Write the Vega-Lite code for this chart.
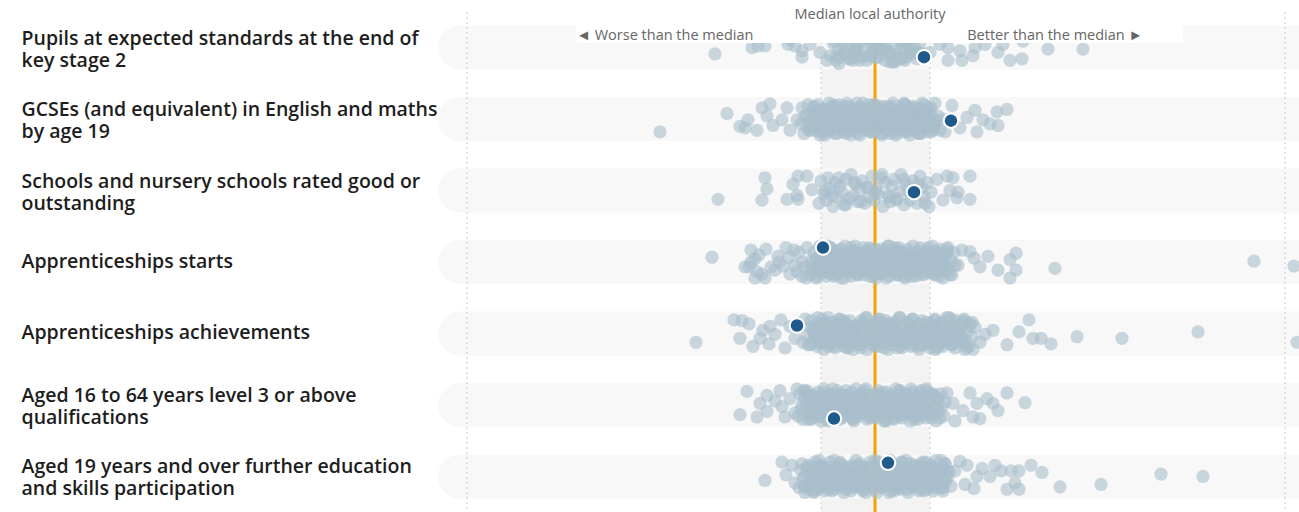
{
"$schema":"https://vega.github.io/schema/vega-lite/v6.json",
"width":861,"height":500,
"autosize":{"type":"none"},
"padding":{"left":438,"top":12,"right":0,"bottom":0},
"background":"white",
"config":{"view":{"stroke":null},"font":"Open Sans"},
"datasets":{
"measures":[
{"m":1,"name":"Pupils at expected standards at the end of\nkey stage 2"},
{"m":2,"name":"GCSEs (and equivalent) in English and maths\nby age 19"},
{"m":3,"name":"Schools and nursery schools rated good or\noutstanding"},
{"m":4,"name":"Apprenticeships starts"},
{"m":5,"name":"Apprenticeships achievements"},
{"m":6,"name":"Aged 16 to 64 years level 3 or above\nqualifications"},
{"m":7,"name":"Aged 19 years and over further education\nand skills participation"}],
"band":[{"lo":-5.4,"hi":5.5}],
"guides":[{"x":-40.8},{"x":41.0},{"x":-5.4},{"x":5.5}],
"median":[{"x":0}],
"header":[{"m":1,"x1":-29.9,"x2":30.8}],
"title":[{"m":1,"x":-0.5,"t":"Median local authority"}],
"sides":[{"m":1,"x":-21.0,"t":"◄ Worse than the median"},{"m":1,"x":18.0,"t":"Better than the median ►"}],
"highlight":[{"m":1,"x":4.9,"j":0.6},{"m":2,"x":7.6,"j":0.1},{"m":3,"x":3.9,"j":0.1},{"m":4,"x":-5.2,"j":-0.9},{"m":5,"x":-7.8,"j":-0.5},{"m":6,"x":-4.1,"j":0.85},{"m":7,"x":1.3,"j":-0.85}],
"points":[
{"m":1,"x":-16.0,"j":0.4},{"m":1,"x":-12.3,"j":0.0},{"m":1,"x":-11.0,"j":-0.1},{"m":1,"x":-8.7,"j":-0.2},{"m":1,"x":-7.3,"j":0.2},{"m":1,"x":-7.3,"j":0.6},{"m":1,"x":-6.5,"j":-0.2},{"m":1,"x":-4.8,"j":0.8},{"m":1,"x":-5.5,"j":0.3},{"m":1,"x":-11.7,"j":-0.1},{"m":1,"x":-8.0,"j":-0.1},{"m":1,"x":-8.5,"j":-0.5},
{"m":1,"x":5.5,"j":0.3},{"m":1,"x":6.5,"j":-0.2},{"m":1,"x":7.3,"j":0.0},{"m":1,"x":7.3,"j":0.8},{"m":1,"x":8.5,"j":0.2},{"m":1,"x":8.7,"j":0.8},{"m":1,"x":9.8,"j":0.5},{"m":1,"x":10.0,"j":0.0},{"m":1,"x":11.0,"j":-0.2},{"m":1,"x":12.3,"j":0.3},{"m":1,"x":12.8,"j":-0.2},{"m":1,"x":13.5,"j":0.8},{"m":1,"x":14.7,"j":0.7},{"m":1,"x":14.8,"j":-0.4},{"m":1,"x":17.3,"j":0.1},{"m":1,"x":20.8,"j":0.1},
{"m":1,"x":-4.5,"j":0.5},{"m":1,"x":-4.2,"j":-0.3},{"m":1,"x":-3.9,"j":0.8},{"m":1,"x":-3.6,"j":0.1},{"m":1,"x":-3.3,"j":-0.6},{"m":1,"x":-3.0,"j":0.4},{"m":1,"x":-2.7,"j":-0.1},{"m":1,"x":-2.5,"j":0.7},{"m":1,"x":-2.2,"j":-0.8},{"m":1,"x":-1.9,"j":0.2},{"m":1,"x":-1.6,"j":0.6},{"m":1,"x":-1.4,"j":-0.4},{"m":1,"x":-1.1,"j":0.0},{"m":1,"x":-0.8,"j":0.8},{"m":1,"x":-0.6,"j":-0.7},{"m":1,"x":-0.3,"j":0.3},{"m":1,"x":0.0,"j":-0.2},{"m":1,"x":0.2,"j":0.6},{"m":1,"x":0.5,"j":-0.5},{"m":1,"x":0.7,"j":0.1},{"m":1,"x":1.0,"j":0.8},{"m":1,"x":1.2,"j":-0.3},{"m":1,"x":1.5,"j":0.4},{"m":1,"x":1.8,"j":-0.9},{"m":1,"x":2.0,"j":0.2},{"m":1,"x":2.3,"j":0.7},{"m":1,"x":2.6,"j":-0.4},{"m":1,"x":2.8,"j":0.0},{"m":1,"x":3.1,"j":0.6},{"m":1,"x":3.4,"j":-0.6},{"m":1,"x":3.6,"j":0.3},{"m":1,"x":3.9,"j":-0.1},{"m":1,"x":4.2,"j":0.7},{"m":1,"x":4.5,"j":-0.3},{"m":1,"x":4.8,"j":0.4},{"m":1,"x":-3.5,"j":0.6},{"m":1,"x":-0.5,"j":0.5},{"m":1,"x":1.4,"j":0.2},{"m":1,"x":3.0,"j":0.8},{"m":1,"x":-2.0,"j":0.0},
{"m":1,"x":-4.0,"j":-0.4},{"m":1,"x":-3.6,"j":1.0},{"m":1,"x":-3.1,"j":0.2},{"m":1,"x":-2.7,"j":-0.6},{"m":1,"x":-2.2,"j":0.8},{"m":1,"x":-1.8,"j":-0.1},{"m":1,"x":-1.3,"j":0.5},{"m":1,"x":-0.9,"j":-0.9},{"m":1,"x":-0.4,"j":0.6},{"m":1,"x":0.0,"j":-0.3},{"m":1,"x":0.5,"j":0.0},{"m":1,"x":0.9,"j":0.3},{"m":1,"x":1.4,"j":-0.8},{"m":1,"x":1.8,"j":0.9},{"m":1,"x":2.3,"j":-0.5},{"m":1,"x":2.7,"j":0.7},{"m":1,"x":3.2,"j":-0.2},{"m":1,"x":3.6,"j":0.1},{"m":1,"x":4.0,"j":-1.0},{"m":1,"x":4.5,"j":0.4},
{"m":1,"x":-3.8,"j":0.5},{"m":1,"x":-3.2,"j":-0.3},{"m":1,"x":-2.6,"j":0.7},{"m":1,"x":-2.0,"j":0.2},{"m":1,"x":-1.5,"j":0.8},{"m":1,"x":-0.9,"j":-0.6},{"m":1,"x":-0.3,"j":0.0},{"m":1,"x":0.3,"j":0.6},{"m":1,"x":0.9,"j":-0.2},{"m":1,"x":1.5,"j":0.9},{"m":1,"x":2.0,"j":0.9},{"m":1,"x":2.6,"j":0.1},{"m":1,"x":3.2,"j":-0.5},{"m":1,"x":3.8,"j":0.4},{"m":1,"x":4.4,"j":0.3},
{"m":2,"x":-21.5,"j":0.8},{"m":2,"x":-14.8,"j":-0.35},{"m":2,"x":-13.5,"j":0.45},{"m":2,"x":-12.7,"j":0.05},{"m":2,"x":-11.8,"j":0.7},{"m":2,"x":-11.3,"j":-0.7},{"m":2,"x":-10.8,"j":-0.2},{"m":2,"x":-10.2,"j":0.4},{"m":2,"x":-8.8,"j":-0.7},{"m":2,"x":-9.3,"j":0.05},{"m":2,"x":-8.5,"j":0.7},{"m":2,"x":-7.8,"j":0.05},{"m":2,"x":-13.0,"j":0.55},{"m":2,"x":-10.5,"j":-0.95},
{"m":2,"x":6.8,"j":0.0},{"m":2,"x":7.7,"j":-0.85},{"m":2,"x":9.2,"j":-0.1},{"m":2,"x":10.0,"j":-0.55},{"m":2,"x":10.2,"j":0.8},{"m":2,"x":10.8,"j":0.05},{"m":2,"x":12.2,"j":-0.45},{"m":2,"x":13.2,"j":-0.6},{"m":2,"x":12.3,"j":0.4},{"m":2,"x":8.5,"j":0.55},{"m":2,"x":11.5,"j":0.3},{"m":2,"x":7.0,"j":0.8},
{"m":2,"x":-7.4,"j":0.3},{"m":2,"x":-7.3,"j":-0.7},{"m":2,"x":-7.1,"j":0.9},{"m":2,"x":-7.0,"j":-0.2},{"m":2,"x":-6.8,"j":0.5},{"m":2,"x":-6.7,"j":-0.9},{"m":2,"x":-6.6,"j":0.1},{"m":2,"x":-6.4,"j":0.7},{"m":2,"x":-6.3,"j":-0.4},{"m":2,"x":-6.1,"j":-0.8},
{"m":2,"x":-6.0,"j":0.6},{"m":2,"x":-5.9,"j":0.0},{"m":2,"x":-5.7,"j":-0.5},{"m":2,"x":-5.6,"j":0.8},{"m":2,"x":-5.4,"j":-0.1},{"m":2,"x":-5.3,"j":0.4},{"m":2,"x":-5.2,"j":-0.6},{"m":2,"x":-5.0,"j":1.0},{"m":2,"x":-4.9,"j":-0.3},{"m":2,"x":-4.7,"j":0.2},
{"m":2,"x":-4.6,"j":-1.0},{"m":2,"x":-4.5,"j":0.7},{"m":2,"x":-4.3,"j":-0.7},{"m":2,"x":-4.2,"j":0.3},{"m":2,"x":-4.0,"j":0.9},{"m":2,"x":-3.9,"j":-0.4},{"m":2,"x":-3.8,"j":0.0},{"m":2,"x":-3.6,"j":-0.9},{"m":2,"x":-3.5,"j":0.5},{"m":2,"x":-3.3,"j":-0.2},
{"m":2,"x":-3.2,"j":0.8},{"m":2,"x":-3.1,"j":-0.6},{"m":2,"x":-2.9,"j":0.2},{"m":2,"x":-2.8,"j":0.6},{"m":2,"x":-2.6,"j":-0.8},{"m":2,"x":-2.5,"j":-0.1},{"m":2,"x":-2.4,"j":1.0},{"m":2,"x":-2.2,"j":-0.5},{"m":2,"x":-2.1,"j":0.4},{"m":2,"x":-1.9,"j":-0.3},
{"m":2,"x":-1.8,"j":0.1},{"m":2,"x":-1.7,"j":0.9},{"m":2,"x":-1.5,"j":-0.7},{"m":2,"x":-1.4,"j":0.5},{"m":2,"x":-1.2,"j":-1.0},{"m":2,"x":-1.1,"j":0.3},{"m":2,"x":-1.0,"j":-0.4},{"m":2,"x":-0.8,"j":0.7},{"m":2,"x":-0.7,"j":0.0},{"m":2,"x":-0.5,"j":-0.6},
{"m":2,"x":-0.4,"j":0.8},{"m":2,"x":-0.3,"j":-0.2},{"m":2,"x":-0.1,"j":0.4},{"m":2,"x":0.0,"j":-0.9},{"m":2,"x":0.2,"j":0.6},{"m":2,"x":0.3,"j":-0.1},{"m":2,"x":0.4,"j":0.2},{"m":2,"x":0.6,"j":-0.8},{"m":2,"x":0.7,"j":1.0},{"m":2,"x":0.9,"j":-0.5},
{"m":2,"x":1.0,"j":0.3},{"m":2,"x":1.1,"j":0.7},{"m":2,"x":1.3,"j":-0.3},{"m":2,"x":1.4,"j":-0.7},{"m":2,"x":1.6,"j":0.5},{"m":2,"x":1.7,"j":0.1},{"m":2,"x":1.8,"j":-1.0},{"m":2,"x":2.0,"j":0.9},{"m":2,"x":2.1,"j":-0.4},{"m":2,"x":2.3,"j":0.0},
{"m":2,"x":2.4,"j":0.6},{"m":2,"x":2.5,"j":-0.6},{"m":2,"x":2.7,"j":0.2},{"m":2,"x":2.8,"j":0.8},{"m":2,"x":3.0,"j":-0.9},{"m":2,"x":3.1,"j":-0.2},{"m":2,"x":3.2,"j":0.4},{"m":2,"x":3.4,"j":-0.5},{"m":2,"x":3.5,"j":1.0},{"m":2,"x":3.7,"j":0.1},
{"m":2,"x":3.8,"j":-0.8},{"m":2,"x":3.9,"j":0.7},{"m":2,"x":4.1,"j":-0.3},{"m":2,"x":4.2,"j":0.3},{"m":2,"x":4.4,"j":-0.1},{"m":2,"x":4.5,"j":0.9},{"m":2,"x":4.6,"j":-0.6},{"m":2,"x":4.8,"j":0.5},{"m":2,"x":4.9,"j":-0.9},{"m":2,"x":5.1,"j":0.0},
{"m":2,"x":5.2,"j":0.8},{"m":2,"x":5.3,"j":-0.4},{"m":2,"x":5.5,"j":0.2},{"m":2,"x":5.6,"j":-0.7},{"m":2,"x":5.8,"j":0.6},{"m":2,"x":5.9,"j":0.4},{"m":2,"x":6.0,"j":-1.0},{"m":2,"x":6.2,"j":0.1},{"m":2,"x":6.3,"j":-0.2},{"m":2,"x":6.5,"j":0.7},
{"m":2,"x":-6.8,"j":-0.2},{"m":2,"x":-6.6,"j":0.7},{"m":2,"x":-6.4,"j":0.1},{"m":2,"x":-6.1,"j":-0.7},{"m":2,"x":-5.9,"j":0.4},{"m":2,"x":-5.7,"j":-0.4},{"m":2,"x":-5.5,"j":1.0},{"m":2,"x":-5.3,"j":0.2},{"m":2,"x":-5.1,"j":-0.6},{"m":2,"x":-4.8,"j":0.8},
{"m":2,"x":-4.6,"j":-0.1},{"m":2,"x":-4.4,"j":0.5},{"m":2,"x":-4.2,"j":-0.9},{"m":2,"x":-4.0,"j":0.6},{"m":2,"x":-3.8,"j":-0.3},{"m":2,"x":-3.5,"j":0.0},{"m":2,"x":-3.3,"j":0.3},{"m":2,"x":-3.1,"j":-0.8},{"m":2,"x":-2.9,"j":0.9},{"m":2,"x":-2.7,"j":-0.5},
{"m":2,"x":-2.5,"j":0.7},{"m":2,"x":-2.2,"j":-0.2},{"m":2,"x":-2.0,"j":0.1},{"m":2,"x":-1.8,"j":-1.0},{"m":2,"x":-1.6,"j":0.4},{"m":2,"x":-1.4,"j":0.6},{"m":2,"x":-1.2,"j":-0.7},{"m":2,"x":-0.9,"j":0.2},{"m":2,"x":-0.7,"j":-0.4},{"m":2,"x":-0.5,"j":0.8},
{"m":2,"x":-0.3,"j":0.0},{"m":2,"x":-0.1,"j":-0.9},{"m":2,"x":0.1,"j":0.5},{"m":2,"x":0.4,"j":-0.6},{"m":2,"x":0.6,"j":0.9},{"m":2,"x":0.8,"j":-0.1},{"m":2,"x":1.0,"j":0.3},{"m":2,"x":1.2,"j":-0.3},{"m":2,"x":1.4,"j":0.7},{"m":2,"x":1.7,"j":-0.8},
{"m":2,"x":1.9,"j":0.1},{"m":2,"x":2.1,"j":1.0},{"m":2,"x":2.3,"j":-0.5},{"m":2,"x":2.5,"j":0.4},{"m":2,"x":2.7,"j":-0.2},{"m":2,"x":3.0,"j":-0.9},{"m":2,"x":3.2,"j":0.8},{"m":2,"x":3.4,"j":0.2},{"m":2,"x":3.6,"j":-0.6},{"m":2,"x":3.8,"j":0.6},
{"m":2,"x":4.0,"j":0.0},{"m":2,"x":4.3,"j":-0.4},{"m":2,"x":4.5,"j":0.9},{"m":2,"x":4.7,"j":-1.0},{"m":2,"x":4.9,"j":0.1},{"m":2,"x":5.1,"j":0.5},{"m":2,"x":5.3,"j":-0.7},{"m":2,"x":5.6,"j":-0.3},{"m":2,"x":5.8,"j":0.7},{"m":2,"x":6.0,"j":0.3},
{"m":2,"x":-6.2,"j":0.5},{"m":2,"x":-6.0,"j":-0.3},{"m":2,"x":-5.7,"j":-0.9},{"m":2,"x":-5.5,"j":0.2},{"m":2,"x":-5.2,"j":0.8},{"m":2,"x":-5.0,"j":-0.6},{"m":2,"x":-4.7,"j":0.0},{"m":2,"x":-4.5,"j":0.6},{"m":2,"x":-4.2,"j":-0.2},{"m":2,"x":-4.0,"j":-0.8},
{"m":2,"x":-3.8,"j":0.9},{"m":2,"x":-3.5,"j":0.1},{"m":2,"x":-3.3,"j":-0.5},{"m":2,"x":-3.0,"j":0.4},{"m":2,"x":-2.8,"j":-1.0},{"m":2,"x":-2.5,"j":0.7},{"m":2,"x":-2.3,"j":-0.1},{"m":2,"x":-2.0,"j":0.3},{"m":2,"x":-1.8,"j":-0.7},{"m":2,"x":-1.5,"j":1.0},
{"m":2,"x":-1.3,"j":-0.4},{"m":2,"x":-1.1,"j":0.2},{"m":2,"x":-0.8,"j":0.6},{"m":2,"x":-0.6,"j":-0.9},{"m":2,"x":-0.3,"j":0.0},{"m":2,"x":-0.1,"j":0.8},{"m":2,"x":0.2,"j":-0.3},{"m":2,"x":0.4,"j":0.5},{"m":2,"x":0.7,"j":-0.6},{"m":2,"x":0.9,"j":0.1},
{"m":2,"x":1.1,"j":-0.8},{"m":2,"x":1.4,"j":0.9},{"m":2,"x":1.6,"j":-0.2},{"m":2,"x":1.9,"j":0.4},{"m":2,"x":2.1,"j":-0.5},{"m":2,"x":2.4,"j":0.7},{"m":2,"x":2.6,"j":0.0},{"m":2,"x":2.9,"j":-1.0},{"m":2,"x":3.1,"j":0.3},{"m":2,"x":3.4,"j":-0.4},
{"m":2,"x":3.6,"j":0.6},{"m":2,"x":3.8,"j":-0.7},{"m":2,"x":4.1,"j":0.2},{"m":2,"x":4.3,"j":0.9},{"m":2,"x":4.6,"j":-0.1},{"m":2,"x":4.8,"j":-0.6},{"m":2,"x":5.1,"j":0.5},{"m":2,"x":5.3,"j":-0.3},{"m":2,"x":5.6,"j":0.8},{"m":2,"x":5.8,"j":0.1},
{"m":3,"x":-15.7,"j":0.55},{"m":3,"x":-11.0,"j":-0.8},{"m":3,"x":-10.8,"j":-0.1},{"m":3,"x":-11.3,"j":0.6},{"m":3,"x":-8.2,"j":-0.4},{"m":3,"x":-8.8,"j":0.55},{"m":3,"x":-7.7,"j":-0.9},{"m":3,"x":-6.8,"j":-0.9},{"m":3,"x":-6.3,"j":-0.05},{"m":3,"x":-7.8,"j":0.3},{"m":3,"x":-7.7,"j":0.55},
{"m":3,"x":6.2,"j":-0.7},{"m":3,"x":7.2,"j":-0.9},{"m":3,"x":7.8,"j":-0.8},{"m":3,"x":7.5,"j":0.0},{"m":3,"x":8.3,"j":0.1},{"m":3,"x":9.5,"j":-0.9},{"m":3,"x":9.5,"j":0.55},{"m":3,"x":6.8,"j":0.6},{"m":3,"x":8.2,"j":0.45},
{"m":3,"x":-5.6,"j":0.8},{"m":3,"x":-5.4,"j":-0.6},{"m":3,"x":-5.1,"j":0.2},{"m":3,"x":-4.9,"j":0.6},{"m":3,"x":-4.7,"j":-0.8},{"m":3,"x":-4.5,"j":-0.1},{"m":3,"x":-4.2,"j":1.0},{"m":3,"x":-4.0,"j":-0.5},{"m":3,"x":-3.8,"j":0.4},{"m":3,"x":-3.5,"j":-0.3},
{"m":3,"x":-3.3,"j":0.1},{"m":3,"x":-3.1,"j":0.9},{"m":3,"x":-2.9,"j":-0.7},{"m":3,"x":-2.6,"j":0.5},{"m":3,"x":-2.4,"j":-1.0},{"m":3,"x":-2.2,"j":0.3},{"m":3,"x":-1.9,"j":-0.4},{"m":3,"x":-1.7,"j":0.7},{"m":3,"x":-1.5,"j":0.0},{"m":3,"x":-1.3,"j":-0.6},
{"m":3,"x":-1.0,"j":0.8},{"m":3,"x":-0.8,"j":-0.2},{"m":3,"x":-0.6,"j":0.4},{"m":3,"x":-0.3,"j":-0.9},{"m":3,"x":-0.1,"j":0.6},{"m":3,"x":0.1,"j":-0.1},{"m":3,"x":0.3,"j":0.2},{"m":3,"x":0.6,"j":-0.8},{"m":3,"x":0.8,"j":1.0},{"m":3,"x":1.0,"j":-0.5},
{"m":3,"x":1.3,"j":0.3},{"m":3,"x":1.5,"j":0.7},{"m":3,"x":1.7,"j":-0.3},{"m":3,"x":1.9,"j":-0.7},{"m":3,"x":2.2,"j":0.5},{"m":3,"x":2.4,"j":0.1},{"m":3,"x":2.6,"j":-1.0},{"m":3,"x":2.9,"j":0.9},{"m":3,"x":3.1,"j":-0.4},{"m":3,"x":3.3,"j":0.0},
{"m":3,"x":3.5,"j":0.6},{"m":3,"x":3.8,"j":-0.6},{"m":3,"x":4.0,"j":0.2},{"m":3,"x":4.2,"j":0.8},{"m":3,"x":4.5,"j":-0.9},{"m":3,"x":4.7,"j":-0.2},{"m":3,"x":4.9,"j":0.4},{"m":3,"x":5.2,"j":-0.5},{"m":3,"x":5.4,"j":1.0},{"m":3,"x":5.6,"j":0.1},
{"m":3,"x":-5.0,"j":0.0},{"m":3,"x":-4.3,"j":0.3},{"m":3,"x":-3.6,"j":-0.8},{"m":3,"x":-2.9,"j":0.9},{"m":3,"x":-2.1,"j":-0.5},{"m":3,"x":-1.4,"j":0.7},{"m":3,"x":-0.7,"j":-0.2},{"m":3,"x":0.0,"j":0.1},{"m":3,"x":0.7,"j":-1.0},{"m":3,"x":1.4,"j":0.4},{"m":3,"x":2.1,"j":0.6},{"m":3,"x":2.9,"j":-0.7},{"m":3,"x":3.6,"j":0.2},{"m":3,"x":4.3,"j":-0.4},{"m":3,"x":5.0,"j":0.8},
{"m":4,"x":-16.3,"j":-0.3},{"m":4,"x":-12.4,"j":-0.75},{"m":4,"x":-12.6,"j":0.3},{"m":4,"x":-12.0,"j":1.0},{"m":4,"x":-11.0,"j":1.0},{"m":4,"x":-11.6,"j":-0.45},{"m":4,"x":-10.4,"j":0.3},{"m":4,"x":-9.2,"j":0.25},{"m":4,"x":-8.1,"j":-0.75},{"m":4,"x":-7.3,"j":0.0},{"m":4,"x":-6.9,"j":1.0},{"m":4,"x":-6.5,"j":0.4},{"m":4,"x":-12.4,"j":0.0},{"m":4,"x":-13.0,"j":0.3},{"m":4,"x":-11.3,"j":0.75},{"m":4,"x":-9.7,"j":-0.35},{"m":4,"x":-8.5,"j":0.75},{"m":4,"x":-8.9,"j":-0.9},
{"m":4,"x":-12.0,"j":-0.2},{"m":4,"x":-11.8,"j":0.6},{"m":4,"x":-10.9,"j":-0.8},{"m":4,"x":-10.0,"j":0.5},{"m":4,"x":-9.6,"j":0.0},{"m":4,"x":-8.6,"j":-0.3},{"m":4,"x":-7.8,"j":0.6},{"m":4,"x":-7.6,"j":-0.6},{"m":4,"x":-7.0,"j":0.3},{"m":4,"x":-6.8,"j":-0.9},{"m":4,"x":-7.3,"j":0.9},{"m":4,"x":-8.0,"j":0.2},
{"m":4,"x":8.7,"j":-0.75},{"m":4,"x":9.5,"j":-0.65},{"m":4,"x":8.3,"j":0.2},{"m":4,"x":9.9,"j":-0.25},{"m":4,"x":10.5,"j":0.3},{"m":4,"x":11.3,"j":-0.35},{"m":4,"x":12.3,"j":0.5},{"m":4,"x":13.5,"j":-0.15},{"m":4,"x":14.1,"j":-0.55},{"m":4,"x":14.1,"j":0.5},{"m":4,"x":13.5,"j":1.0},{"m":4,"x":18.0,"j":0.4},{"m":4,"x":37.9,"j":-0.05},{"m":4,"x":41.9,"j":0.25},
{"m":4,"x":-6.5,"j":0.8},{"m":4,"x":-6.4,"j":-0.1},{"m":4,"x":-6.2,"j":0.4},{"m":4,"x":-6.1,"j":-0.6},{"m":4,"x":-5.9,"j":1.0},{"m":4,"x":-5.8,"j":-0.3},{"m":4,"x":-5.6,"j":0.2},{"m":4,"x":-5.5,"j":-1.0},{"m":4,"x":-5.3,"j":0.7},{"m":4,"x":-5.2,"j":-0.7},
{"m":4,"x":-5.0,"j":0.3},{"m":4,"x":-4.9,"j":0.9},{"m":4,"x":-4.7,"j":-0.4},{"m":4,"x":-4.6,"j":0.0},{"m":4,"x":-4.4,"j":-0.9},{"m":4,"x":-4.3,"j":0.5},{"m":4,"x":-4.2,"j":-0.2},{"m":4,"x":-4.0,"j":0.8},{"m":4,"x":-3.9,"j":-0.6},{"m":4,"x":-3.7,"j":0.2},
{"m":4,"x":-3.6,"j":0.6},{"m":4,"x":-3.4,"j":-0.8},{"m":4,"x":-3.3,"j":-0.1},{"m":4,"x":-3.1,"j":1.0},{"m":4,"x":-3.0,"j":-0.5},{"m":4,"x":-2.8,"j":0.4},{"m":4,"x":-2.7,"j":-0.3},{"m":4,"x":-2.5,"j":0.1},{"m":4,"x":-2.4,"j":0.9},{"m":4,"x":-2.2,"j":-0.7},
{"m":4,"x":-2.1,"j":0.5},{"m":4,"x":-2.0,"j":-1.0},{"m":4,"x":-1.8,"j":0.3},{"m":4,"x":-1.7,"j":-0.4},{"m":4,"x":-1.5,"j":0.7},{"m":4,"x":-1.4,"j":0.0},{"m":4,"x":-1.2,"j":-0.6},{"m":4,"x":-1.1,"j":0.8},{"m":4,"x":-0.9,"j":-0.2},{"m":4,"x":-0.8,"j":0.4},
{"m":4,"x":-0.6,"j":-0.9},{"m":4,"x":-0.5,"j":0.6},{"m":4,"x":-0.3,"j":-0.1},{"m":4,"x":-0.2,"j":0.2},{"m":4,"x":0.0,"j":-0.8},{"m":4,"x":0.1,"j":1.0},{"m":4,"x":0.2,"j":-0.5},{"m":4,"x":0.4,"j":0.3},{"m":4,"x":0.5,"j":0.7},{"m":4,"x":0.7,"j":-0.3},
{"m":4,"x":0.8,"j":-0.7},{"m":4,"x":1.0,"j":0.5},{"m":4,"x":1.1,"j":0.1},{"m":4,"x":1.3,"j":-1.0},{"m":4,"x":1.4,"j":0.9},{"m":4,"x":1.6,"j":-0.4},{"m":4,"x":1.7,"j":0.0},{"m":4,"x":1.9,"j":0.6},{"m":4,"x":2.0,"j":-0.6},{"m":4,"x":2.1,"j":0.2},
{"m":4,"x":2.3,"j":0.8},{"m":4,"x":2.4,"j":-0.9},{"m":4,"x":2.6,"j":-0.2},{"m":4,"x":2.7,"j":0.4},{"m":4,"x":2.9,"j":-0.5},{"m":4,"x":3.0,"j":1.0},{"m":4,"x":3.2,"j":0.1},{"m":4,"x":3.3,"j":-0.8},{"m":4,"x":3.5,"j":0.7},{"m":4,"x":3.6,"j":-0.3},
{"m":4,"x":3.8,"j":0.3},{"m":4,"x":3.9,"j":-0.1},{"m":4,"x":4.0,"j":0.9},{"m":4,"x":4.2,"j":-0.6},{"m":4,"x":4.3,"j":0.5},{"m":4,"x":4.5,"j":-0.9},{"m":4,"x":4.6,"j":0.0},{"m":4,"x":4.8,"j":0.8},{"m":4,"x":4.9,"j":-0.4},{"m":4,"x":5.1,"j":0.2},
{"m":4,"x":5.2,"j":-0.7},{"m":4,"x":5.4,"j":0.6},{"m":4,"x":5.5,"j":0.4},{"m":4,"x":5.7,"j":-1.0},{"m":4,"x":5.8,"j":0.1},{"m":4,"x":6.0,"j":-0.2},{"m":4,"x":6.1,"j":0.7},{"m":4,"x":6.3,"j":-0.5},{"m":4,"x":6.4,"j":0.9},{"m":4,"x":6.5,"j":-0.8},
{"m":4,"x":6.7,"j":0.3},{"m":4,"x":6.8,"j":0.0},{"m":4,"x":7.0,"j":-0.3},{"m":4,"x":7.1,"j":0.6},{"m":4,"x":7.3,"j":-0.9},{"m":4,"x":7.4,"j":0.5},{"m":4,"x":7.6,"j":-0.1},{"m":4,"x":7.7,"j":0.8},{"m":4,"x":7.9,"j":-0.6},{"m":4,"x":8.0,"j":0.2},
{"m":4,"x":-6.0,"j":-0.1},{"m":4,"x":-5.8,"j":0.5},{"m":4,"x":-5.5,"j":-0.9},{"m":4,"x":-5.3,"j":0.6},{"m":4,"x":-5.1,"j":-0.3},{"m":4,"x":-4.9,"j":0.0},{"m":4,"x":-4.6,"j":0.3},{"m":4,"x":-4.4,"j":-0.8},{"m":4,"x":-4.2,"j":0.9},{"m":4,"x":-3.9,"j":-0.5},
{"m":4,"x":-3.7,"j":0.7},{"m":4,"x":-3.5,"j":-0.2},{"m":4,"x":-3.3,"j":0.1},{"m":4,"x":-3.0,"j":-1.0},{"m":4,"x":-2.8,"j":0.4},{"m":4,"x":-2.6,"j":0.6},{"m":4,"x":-2.3,"j":-0.7},{"m":4,"x":-2.1,"j":0.2},{"m":4,"x":-1.9,"j":-0.4},{"m":4,"x":-1.7,"j":0.8},
{"m":4,"x":-1.4,"j":0.0},{"m":4,"x":-1.2,"j":-0.9},{"m":4,"x":-1.0,"j":0.5},{"m":4,"x":-0.7,"j":-0.6},{"m":4,"x":-0.5,"j":0.9},{"m":4,"x":-0.3,"j":-0.1},{"m":4,"x":-0.1,"j":0.3},{"m":4,"x":0.2,"j":-0.3},{"m":4,"x":0.4,"j":0.7},{"m":4,"x":0.6,"j":-0.8},
{"m":4,"x":0.9,"j":0.1},{"m":4,"x":1.1,"j":1.0},{"m":4,"x":1.3,"j":-0.5},{"m":4,"x":1.6,"j":0.4},{"m":4,"x":1.8,"j":-0.2},{"m":4,"x":2.0,"j":-0.9},{"m":4,"x":2.2,"j":0.8},{"m":4,"x":2.5,"j":0.2},{"m":4,"x":2.7,"j":-0.6},{"m":4,"x":2.9,"j":0.6},
{"m":4,"x":3.2,"j":0.0},{"m":4,"x":3.4,"j":-0.4},{"m":4,"x":3.6,"j":0.9},{"m":4,"x":3.8,"j":-1.0},{"m":4,"x":4.1,"j":0.1},{"m":4,"x":4.3,"j":0.5},{"m":4,"x":4.5,"j":-0.7},{"m":4,"x":4.8,"j":-0.3},{"m":4,"x":5.0,"j":0.7},{"m":4,"x":5.2,"j":0.3},
{"m":4,"x":5.4,"j":-0.2},{"m":4,"x":5.7,"j":0.7},{"m":4,"x":5.9,"j":0.1},{"m":4,"x":6.1,"j":-0.7},{"m":4,"x":6.4,"j":0.4},{"m":4,"x":6.6,"j":-0.4},{"m":4,"x":6.8,"j":1.0},{"m":4,"x":7.0,"j":0.2},{"m":4,"x":7.3,"j":-0.6},{"m":4,"x":7.5,"j":0.8},
{"m":4,"x":-5.8,"j":0.9},{"m":4,"x":-5.5,"j":0.1},{"m":4,"x":-5.3,"j":-0.5},{"m":4,"x":-5.0,"j":0.4},{"m":4,"x":-4.7,"j":-1.0},{"m":4,"x":-4.5,"j":0.7},{"m":4,"x":-4.2,"j":-0.1},{"m":4,"x":-3.9,"j":0.3},{"m":4,"x":-3.7,"j":-0.7},{"m":4,"x":-3.4,"j":1.0},
{"m":4,"x":-3.2,"j":-0.4},{"m":4,"x":-2.9,"j":0.2},{"m":4,"x":-2.6,"j":0.6},{"m":4,"x":-2.4,"j":-0.9},{"m":4,"x":-2.1,"j":0.0},{"m":4,"x":-1.8,"j":0.8},{"m":4,"x":-1.6,"j":-0.3},{"m":4,"x":-1.3,"j":0.5},{"m":4,"x":-1.0,"j":-0.6},{"m":4,"x":-0.8,"j":0.1},
{"m":4,"x":-0.5,"j":-0.8},{"m":4,"x":-0.2,"j":0.9},{"m":4,"x":0.0,"j":-0.2},{"m":4,"x":0.3,"j":0.4},{"m":4,"x":0.6,"j":-0.5},{"m":4,"x":0.8,"j":0.7},{"m":4,"x":1.1,"j":0.0},{"m":4,"x":1.4,"j":-1.0},{"m":4,"x":1.6,"j":0.3},{"m":4,"x":1.9,"j":-0.4},
{"m":4,"x":2.2,"j":0.6},{"m":4,"x":2.4,"j":-0.7},{"m":4,"x":2.7,"j":0.2},{"m":4,"x":2.9,"j":0.9},{"m":4,"x":3.2,"j":-0.1},{"m":4,"x":3.5,"j":-0.6},{"m":4,"x":3.7,"j":0.5},{"m":4,"x":4.0,"j":-0.3},{"m":4,"x":4.3,"j":0.8},{"m":4,"x":4.5,"j":0.1},
{"m":4,"x":4.8,"j":0.5},{"m":4,"x":5.1,"j":-0.3},{"m":4,"x":5.3,"j":-0.9},{"m":4,"x":5.6,"j":0.2},{"m":4,"x":5.9,"j":0.8},{"m":4,"x":6.1,"j":-0.6},{"m":4,"x":6.4,"j":0.0},{"m":4,"x":6.7,"j":0.6},{"m":4,"x":6.9,"j":-0.2},{"m":4,"x":7.2,"j":-0.8},
{"m":5,"x":-17.9,"j":0.55},{"m":5,"x":-14.1,"j":-0.85},{"m":5,"x":-13.3,"j":-0.8},{"m":5,"x":-12.6,"j":-0.6},{"m":5,"x":-13.5,"j":0.3},{"m":5,"x":-12.2,"j":0.8},{"m":5,"x":-11.2,"j":-0.2},{"m":5,"x":-10.6,"j":0.65},{"m":5,"x":-9.4,"j":-0.85},{"m":5,"x":-7.2,"j":0.55},{"m":5,"x":-5.6,"j":0.45},{"m":5,"x":-11.5,"j":0.3},{"m":5,"x":-10.0,"j":0.05},{"m":5,"x":-8.5,"j":-0.45},{"m":5,"x":-9.0,"j":0.9},{"m":5,"x":-10.5,"j":-0.45},{"m":5,"x":-8.0,"j":0.3},
{"m":5,"x":11.8,"j":-0.2},{"m":5,"x":14.4,"j":-0.1},{"m":5,"x":15.4,"j":-0.85},{"m":5,"x":15.8,"j":0.3},{"m":5,"x":16.6,"j":0.3},{"m":5,"x":17.6,"j":0.65},{"m":5,"x":13.2,"j":0.7},{"m":5,"x":20.2,"j":0.2},{"m":5,"x":24.7,"j":0.3},{"m":5,"x":32.3,"j":-0.1},{"m":5,"x":42.2,"j":0.55},{"m":5,"x":10.5,"j":0.55},{"m":5,"x":9.7,"j":-0.7},{"m":5,"x":11.0,"j":0.05},
{"m":5,"x":-7.0,"j":-0.9},{"m":5,"x":-6.8,"j":0.1},{"m":5,"x":-6.7,"j":0.7},{"m":5,"x":-6.5,"j":-0.4},{"m":5,"x":-6.4,"j":-0.8},{"m":5,"x":-6.2,"j":0.6},{"m":5,"x":-6.1,"j":0.0},{"m":5,"x":-5.9,"j":-0.5},{"m":5,"x":-5.8,"j":0.8},{"m":5,"x":-5.6,"j":-0.1},
{"m":5,"x":-5.4,"j":0.4},{"m":5,"x":-5.3,"j":-0.6},{"m":5,"x":-5.1,"j":1.0},{"m":5,"x":-5.0,"j":-0.3},{"m":5,"x":-4.8,"j":0.2},{"m":5,"x":-4.7,"j":-1.0},{"m":5,"x":-4.5,"j":0.7},{"m":5,"x":-4.3,"j":-0.7},{"m":5,"x":-4.2,"j":0.3},{"m":5,"x":-4.0,"j":0.9},
{"m":5,"x":-3.9,"j":-0.4},{"m":5,"x":-3.7,"j":0.0},{"m":5,"x":-3.6,"j":-0.9},{"m":5,"x":-3.4,"j":0.5},{"m":5,"x":-3.3,"j":-0.2},{"m":5,"x":-3.1,"j":0.8},{"m":5,"x":-2.9,"j":-0.6},{"m":5,"x":-2.8,"j":0.2},{"m":5,"x":-2.6,"j":0.6},{"m":5,"x":-2.5,"j":-0.8},
{"m":5,"x":-2.3,"j":-0.1},{"m":5,"x":-2.2,"j":1.0},{"m":5,"x":-2.0,"j":-0.5},{"m":5,"x":-1.9,"j":0.4},{"m":5,"x":-1.7,"j":-0.3},{"m":5,"x":-1.5,"j":0.1},{"m":5,"x":-1.4,"j":0.9},{"m":5,"x":-1.2,"j":-0.7},{"m":5,"x":-1.1,"j":0.5},{"m":5,"x":-0.9,"j":-1.0},
{"m":5,"x":-0.8,"j":0.3},{"m":5,"x":-0.6,"j":-0.4},{"m":5,"x":-0.4,"j":0.7},{"m":5,"x":-0.3,"j":0.0},{"m":5,"x":-0.1,"j":-0.6},{"m":5,"x":0.0,"j":0.8},{"m":5,"x":0.2,"j":-0.2},{"m":5,"x":0.3,"j":0.4},{"m":5,"x":0.5,"j":-0.9},{"m":5,"x":0.6,"j":0.6},
{"m":5,"x":0.8,"j":-0.1},{"m":5,"x":1.0,"j":0.2},{"m":5,"x":1.1,"j":-0.8},{"m":5,"x":1.3,"j":1.0},{"m":5,"x":1.4,"j":-0.5},{"m":5,"x":1.6,"j":0.3},{"m":5,"x":1.7,"j":0.7},{"m":5,"x":1.9,"j":-0.3},{"m":5,"x":2.0,"j":-0.7},{"m":5,"x":2.2,"j":0.5},
{"m":5,"x":2.4,"j":0.1},{"m":5,"x":2.5,"j":-1.0},{"m":5,"x":2.7,"j":0.9},{"m":5,"x":2.8,"j":-0.4},{"m":5,"x":3.0,"j":0.0},{"m":5,"x":3.1,"j":0.6},{"m":5,"x":3.3,"j":-0.6},{"m":5,"x":3.5,"j":0.2},{"m":5,"x":3.6,"j":0.8},{"m":5,"x":3.8,"j":-0.9},
{"m":5,"x":3.9,"j":-0.2},{"m":5,"x":4.1,"j":0.4},{"m":5,"x":4.2,"j":-0.5},{"m":5,"x":4.4,"j":1.0},{"m":5,"x":4.5,"j":0.1},{"m":5,"x":4.7,"j":-0.8},{"m":5,"x":4.9,"j":0.7},{"m":5,"x":5.0,"j":-0.3},{"m":5,"x":5.2,"j":0.3},{"m":5,"x":5.3,"j":-0.1},
{"m":5,"x":5.5,"j":0.9},{"m":5,"x":5.6,"j":-0.6},{"m":5,"x":5.8,"j":0.5},{"m":5,"x":6.0,"j":-0.9},{"m":5,"x":6.1,"j":0.0},{"m":5,"x":6.3,"j":0.8},{"m":5,"x":6.4,"j":-0.4},{"m":5,"x":6.6,"j":0.2},{"m":5,"x":6.7,"j":-0.7},{"m":5,"x":6.9,"j":0.6},
{"m":5,"x":7.0,"j":0.4},{"m":5,"x":7.2,"j":-1.0},{"m":5,"x":7.4,"j":0.1},{"m":5,"x":7.5,"j":-0.2},{"m":5,"x":7.7,"j":0.7},{"m":5,"x":7.8,"j":-0.5},{"m":5,"x":8.0,"j":0.9},{"m":5,"x":8.1,"j":-0.8},{"m":5,"x":8.3,"j":0.3},{"m":5,"x":8.4,"j":0.0},
{"m":5,"x":8.6,"j":-0.3},{"m":5,"x":8.8,"j":0.6},{"m":5,"x":8.9,"j":-0.9},{"m":5,"x":9.1,"j":0.5},{"m":5,"x":9.2,"j":-0.1},{"m":5,"x":9.4,"j":0.8},{"m":5,"x":9.5,"j":-0.6},{"m":5,"x":9.7,"j":0.2},{"m":5,"x":9.8,"j":1.0},{"m":5,"x":10.0,"j":-0.4},
{"m":5,"x":-6.5,"j":0.7},{"m":5,"x":-6.2,"j":-0.2},{"m":5,"x":-6.0,"j":0.1},{"m":5,"x":-5.7,"j":-1.0},{"m":5,"x":-5.4,"j":0.4},{"m":5,"x":-5.1,"j":0.6},{"m":5,"x":-4.9,"j":-0.7},{"m":5,"x":-4.6,"j":0.2},{"m":5,"x":-4.3,"j":-0.4},{"m":5,"x":-4.1,"j":0.8},
{"m":5,"x":-3.8,"j":0.0},{"m":5,"x":-3.5,"j":-0.9},{"m":5,"x":-3.2,"j":0.5},{"m":5,"x":-3.0,"j":-0.6},{"m":5,"x":-2.7,"j":0.9},{"m":5,"x":-2.4,"j":-0.1},{"m":5,"x":-2.2,"j":0.3},{"m":5,"x":-1.9,"j":-0.3},{"m":5,"x":-1.6,"j":0.7},{"m":5,"x":-1.4,"j":-0.8},
{"m":5,"x":-1.1,"j":0.1},{"m":5,"x":-0.8,"j":1.0},{"m":5,"x":-0.5,"j":-0.5},{"m":5,"x":-0.3,"j":0.4},{"m":5,"x":0.0,"j":-0.2},{"m":5,"x":0.3,"j":-0.9},{"m":5,"x":0.5,"j":0.8},{"m":5,"x":0.8,"j":0.2},{"m":5,"x":1.1,"j":-0.6},{"m":5,"x":1.4,"j":0.6},
{"m":5,"x":1.6,"j":0.0},{"m":5,"x":1.9,"j":-0.4},{"m":5,"x":2.2,"j":0.9},{"m":5,"x":2.4,"j":-1.0},{"m":5,"x":2.7,"j":0.1},{"m":5,"x":3.0,"j":0.5},{"m":5,"x":3.3,"j":-0.7},{"m":5,"x":3.5,"j":-0.3},{"m":5,"x":3.8,"j":0.7},{"m":5,"x":4.1,"j":0.3},
{"m":5,"x":4.3,"j":-0.2},{"m":5,"x":4.6,"j":0.7},{"m":5,"x":4.9,"j":0.1},{"m":5,"x":5.2,"j":-0.7},{"m":5,"x":5.4,"j":0.4},{"m":5,"x":5.7,"j":-0.4},{"m":5,"x":6.0,"j":1.0},{"m":5,"x":6.2,"j":0.2},{"m":5,"x":6.5,"j":-0.6},{"m":5,"x":6.8,"j":0.8},
{"m":5,"x":7.1,"j":-0.1},{"m":5,"x":7.3,"j":0.5},{"m":5,"x":7.6,"j":-0.9},{"m":5,"x":7.9,"j":0.6},{"m":5,"x":8.1,"j":-0.3},{"m":5,"x":8.4,"j":0.0},{"m":5,"x":8.7,"j":0.3},{"m":5,"x":8.9,"j":-0.8},{"m":5,"x":9.2,"j":0.9},{"m":5,"x":9.5,"j":-0.5},
{"m":5,"x":-6.2,"j":-0.4},{"m":5,"x":-5.9,"j":0.2},{"m":5,"x":-5.6,"j":0.6},{"m":5,"x":-5.3,"j":-0.9},{"m":5,"x":-5.0,"j":0.0},{"m":5,"x":-4.7,"j":0.8},{"m":5,"x":-4.3,"j":-0.3},{"m":5,"x":-4.0,"j":0.5},{"m":5,"x":-3.7,"j":-0.6},{"m":5,"x":-3.4,"j":0.1},
{"m":5,"x":-3.1,"j":-0.8},{"m":5,"x":-2.8,"j":0.9},{"m":5,"x":-2.5,"j":-0.2},{"m":5,"x":-2.2,"j":0.4},{"m":5,"x":-1.9,"j":-0.5},{"m":5,"x":-1.6,"j":0.7},{"m":5,"x":-1.2,"j":0.0},{"m":5,"x":-0.9,"j":-1.0},{"m":5,"x":-0.6,"j":0.3},{"m":5,"x":-0.3,"j":-0.4},
{"m":5,"x":0.0,"j":0.6},{"m":5,"x":0.3,"j":-0.7},{"m":5,"x":0.6,"j":0.2},{"m":5,"x":0.9,"j":0.9},{"m":5,"x":1.2,"j":-0.1},{"m":5,"x":1.5,"j":-0.6},{"m":5,"x":1.9,"j":0.5},{"m":5,"x":2.2,"j":-0.3},{"m":5,"x":2.5,"j":0.8},{"m":5,"x":2.8,"j":0.1},
{"m":5,"x":3.1,"j":0.5},{"m":5,"x":3.4,"j":-0.3},{"m":5,"x":3.7,"j":-0.9},{"m":5,"x":4.0,"j":0.2},{"m":5,"x":4.3,"j":0.8},{"m":5,"x":4.6,"j":-0.6},{"m":5,"x":5.0,"j":0.0},{"m":5,"x":5.3,"j":0.6},{"m":5,"x":5.6,"j":-0.2},{"m":5,"x":5.9,"j":-0.8},
{"m":5,"x":6.2,"j":0.9},{"m":5,"x":6.5,"j":0.1},{"m":5,"x":6.8,"j":-0.5},{"m":5,"x":7.1,"j":0.4},{"m":5,"x":7.4,"j":-1.0},{"m":5,"x":7.7,"j":0.7},{"m":5,"x":8.1,"j":-0.1},{"m":5,"x":8.4,"j":0.3},{"m":5,"x":8.7,"j":-0.7},{"m":5,"x":9.0,"j":1.0},
{"m":6,"x":-12.8,"j":-0.85},{"m":6,"x":-13.5,"j":0.6},{"m":6,"x":-11.8,"j":0.75},{"m":6,"x":-11.5,"j":-0.1},{"m":6,"x":-10.8,"j":-0.6},{"m":6,"x":-10.8,"j":0.4},{"m":6,"x":-9.5,"j":-0.9},{"m":6,"x":-9.3,"j":0.1},{"m":6,"x":-8.5,"j":-0.4},{"m":6,"x":-10.0,"j":-0.25},{"m":6,"x":-9.0,"j":0.75},{"m":6,"x":-8.0,"j":0.5},
{"m":6,"x":7.2,"j":-0.75},{"m":6,"x":7.8,"j":-0.1},{"m":6,"x":8.8,"j":0.35},{"m":6,"x":9.5,"j":-0.75},{"m":6,"x":10.2,"j":-0.1},{"m":6,"x":9.8,"j":0.75},{"m":6,"x":10.5,"j":0.85},{"m":6,"x":11.2,"j":-0.4},{"m":6,"x":11.8,"j":-0.1},{"m":6,"x":12.3,"j":0.35},{"m":6,"x":13.2,"j":-0.75},{"m":6,"x":15.0,"j":-0.15},{"m":6,"x":8.0,"j":1.0},
{"m":6,"x":-7.8,"j":-1.0},{"m":6,"x":-7.7,"j":0.7},{"m":6,"x":-7.5,"j":-0.7},{"m":6,"x":-7.4,"j":0.3},{"m":6,"x":-7.2,"j":0.9},{"m":6,"x":-7.1,"j":-0.4},{"m":6,"x":-6.9,"j":0.0},{"m":6,"x":-6.8,"j":-0.9},{"m":6,"x":-6.6,"j":0.5},{"m":6,"x":-6.5,"j":-0.2},
{"m":6,"x":-6.3,"j":0.8},{"m":6,"x":-6.2,"j":-0.6},{"m":6,"x":-6.0,"j":0.2},{"m":6,"x":-5.9,"j":0.6},{"m":6,"x":-5.7,"j":-0.8},{"m":6,"x":-5.6,"j":-0.1},{"m":6,"x":-5.4,"j":1.0},{"m":6,"x":-5.3,"j":-0.5},{"m":6,"x":-5.1,"j":0.4},{"m":6,"x":-5.0,"j":-0.3},
{"m":6,"x":-4.8,"j":0.1},{"m":6,"x":-4.7,"j":0.9},{"m":6,"x":-4.5,"j":-0.7},{"m":6,"x":-4.4,"j":0.5},{"m":6,"x":-4.2,"j":-1.0},{"m":6,"x":-4.1,"j":0.3},{"m":6,"x":-3.9,"j":-0.4},{"m":6,"x":-3.8,"j":0.7},{"m":6,"x":-3.6,"j":0.0},{"m":6,"x":-3.5,"j":-0.6},
{"m":6,"x":-3.3,"j":0.8},{"m":6,"x":-3.2,"j":-0.2},{"m":6,"x":-3.0,"j":0.4},{"m":6,"x":-2.9,"j":-0.9},{"m":6,"x":-2.7,"j":0.6},{"m":6,"x":-2.6,"j":-0.1},{"m":6,"x":-2.4,"j":0.2},{"m":6,"x":-2.3,"j":-0.8},{"m":6,"x":-2.1,"j":1.0},{"m":6,"x":-2.0,"j":-0.5},
{"m":6,"x":-1.8,"j":0.3},{"m":6,"x":-1.7,"j":0.7},{"m":6,"x":-1.5,"j":-0.3},{"m":6,"x":-1.4,"j":-0.7},{"m":6,"x":-1.2,"j":0.5},{"m":6,"x":-1.1,"j":0.1},{"m":6,"x":-0.9,"j":-1.0},{"m":6,"x":-0.8,"j":0.9},{"m":6,"x":-0.6,"j":-0.4},{"m":6,"x":-0.5,"j":0.0},
{"m":6,"x":-0.3,"j":0.6},{"m":6,"x":-0.2,"j":-0.6},{"m":6,"x":0.0,"j":0.2},{"m":6,"x":0.1,"j":0.8},{"m":6,"x":0.3,"j":-0.9},{"m":6,"x":0.4,"j":-0.2},{"m":6,"x":0.6,"j":0.4},{"m":6,"x":0.7,"j":-0.5},{"m":6,"x":0.9,"j":1.0},{"m":6,"x":1.0,"j":0.1},
{"m":6,"x":1.2,"j":-0.8},{"m":6,"x":1.3,"j":0.7},{"m":6,"x":1.5,"j":-0.3},{"m":6,"x":1.6,"j":0.3},{"m":6,"x":1.8,"j":-0.1},{"m":6,"x":1.9,"j":0.9},{"m":6,"x":2.1,"j":-0.6},{"m":6,"x":2.2,"j":0.5},{"m":6,"x":2.4,"j":-0.9},{"m":6,"x":2.5,"j":0.0},
{"m":6,"x":2.7,"j":0.8},{"m":6,"x":2.8,"j":-0.4},{"m":6,"x":3.0,"j":0.2},{"m":6,"x":3.1,"j":-0.7},{"m":6,"x":3.3,"j":0.6},{"m":6,"x":3.4,"j":0.4},{"m":6,"x":3.6,"j":-1.0},{"m":6,"x":3.7,"j":0.1},{"m":6,"x":3.9,"j":-0.2},{"m":6,"x":4.0,"j":0.7},
{"m":6,"x":4.2,"j":-0.5},{"m":6,"x":4.3,"j":0.9},{"m":6,"x":4.5,"j":-0.8},{"m":6,"x":4.6,"j":0.3},{"m":6,"x":4.8,"j":0.0},{"m":6,"x":4.9,"j":-0.3},{"m":6,"x":5.1,"j":0.6},{"m":6,"x":5.2,"j":-0.9},{"m":6,"x":5.4,"j":0.5},{"m":6,"x":5.5,"j":-0.1},
{"m":6,"x":5.7,"j":0.8},{"m":6,"x":5.8,"j":-0.6},{"m":6,"x":6.0,"j":0.2},{"m":6,"x":6.1,"j":1.0},{"m":6,"x":6.3,"j":-0.4},{"m":6,"x":6.4,"j":0.4},{"m":6,"x":6.6,"j":-0.7},{"m":6,"x":6.7,"j":0.1},{"m":6,"x":6.9,"j":0.7},{"m":6,"x":7.0,"j":-0.2},
{"m":6,"x":-7.3,"j":0.0},{"m":6,"x":-7.1,"j":-0.9},{"m":6,"x":-6.8,"j":0.5},{"m":6,"x":-6.6,"j":-0.6},{"m":6,"x":-6.4,"j":0.9},{"m":6,"x":-6.1,"j":-0.1},{"m":6,"x":-5.9,"j":0.3},{"m":6,"x":-5.7,"j":-0.3},{"m":6,"x":-5.4,"j":0.7},{"m":6,"x":-5.2,"j":-0.8},
{"m":6,"x":-5.0,"j":0.1},{"m":6,"x":-4.7,"j":1.0},{"m":6,"x":-4.5,"j":-0.5},{"m":6,"x":-4.3,"j":0.4},{"m":6,"x":-4.0,"j":-0.2},{"m":6,"x":-3.8,"j":-0.9},{"m":6,"x":-3.6,"j":0.8},{"m":6,"x":-3.3,"j":0.2},{"m":6,"x":-3.1,"j":-0.6},{"m":6,"x":-2.9,"j":0.6},
{"m":6,"x":-2.6,"j":0.0},{"m":6,"x":-2.4,"j":-0.4},{"m":6,"x":-2.2,"j":0.9},{"m":6,"x":-1.9,"j":-1.0},{"m":6,"x":-1.7,"j":0.1},{"m":6,"x":-1.5,"j":0.5},{"m":6,"x":-1.2,"j":-0.7},{"m":6,"x":-1.0,"j":-0.3},{"m":6,"x":-0.7,"j":0.7},{"m":6,"x":-0.5,"j":0.3},
{"m":6,"x":-0.3,"j":-0.2},{"m":6,"x":0.0,"j":0.7},{"m":6,"x":0.2,"j":0.1},{"m":6,"x":0.4,"j":-0.7},{"m":6,"x":0.7,"j":0.4},{"m":6,"x":0.9,"j":-0.4},{"m":6,"x":1.1,"j":1.0},{"m":6,"x":1.4,"j":0.2},{"m":6,"x":1.6,"j":-0.6},{"m":6,"x":1.8,"j":0.8},
{"m":6,"x":2.1,"j":-0.1},{"m":6,"x":2.3,"j":0.5},{"m":6,"x":2.5,"j":-0.9},{"m":6,"x":2.8,"j":0.6},{"m":6,"x":3.0,"j":-0.3},{"m":6,"x":3.2,"j":0.0},{"m":6,"x":3.5,"j":0.3},{"m":6,"x":3.7,"j":-0.8},{"m":6,"x":3.9,"j":0.9},{"m":6,"x":4.2,"j":-0.5},
{"m":6,"x":4.4,"j":0.7},{"m":6,"x":4.6,"j":-0.2},{"m":6,"x":4.9,"j":0.1},{"m":6,"x":5.1,"j":-1.0},{"m":6,"x":5.3,"j":0.4},{"m":6,"x":5.6,"j":0.6},{"m":6,"x":5.8,"j":-0.7},{"m":6,"x":6.0,"j":0.2},{"m":6,"x":6.3,"j":-0.4},{"m":6,"x":6.5,"j":0.8},
{"m":6,"x":-7.0,"j":-0.8},{"m":6,"x":-6.7,"j":0.9},{"m":6,"x":-6.5,"j":-0.2},{"m":6,"x":-6.2,"j":0.4},{"m":6,"x":-5.9,"j":-0.5},{"m":6,"x":-5.7,"j":0.7},{"m":6,"x":-5.4,"j":0.0},{"m":6,"x":-5.1,"j":-1.0},{"m":6,"x":-4.8,"j":0.3},{"m":6,"x":-4.6,"j":-0.4},
{"m":6,"x":-4.3,"j":0.6},{"m":6,"x":-4.0,"j":-0.7},{"m":6,"x":-3.8,"j":0.2},{"m":6,"x":-3.5,"j":0.9},{"m":6,"x":-3.2,"j":-0.1},{"m":6,"x":-3.0,"j":-0.6},{"m":6,"x":-2.7,"j":0.5},{"m":6,"x":-2.4,"j":-0.3},{"m":6,"x":-2.2,"j":0.8},{"m":6,"x":-1.9,"j":0.1},
{"m":6,"x":-1.6,"j":0.5},{"m":6,"x":-1.4,"j":-0.3},{"m":6,"x":-1.1,"j":-0.9},{"m":6,"x":-0.8,"j":0.2},{"m":6,"x":-0.5,"j":0.8},{"m":6,"x":-0.3,"j":-0.6},{"m":6,"x":0.0,"j":0.0},{"m":6,"x":0.3,"j":0.6},{"m":6,"x":0.5,"j":-0.2},{"m":6,"x":0.8,"j":-0.8},
{"m":6,"x":1.1,"j":0.9},{"m":6,"x":1.3,"j":0.1},{"m":6,"x":1.6,"j":-0.5},{"m":6,"x":1.9,"j":0.4},{"m":6,"x":2.1,"j":-1.0},{"m":6,"x":2.4,"j":0.7},{"m":6,"x":2.7,"j":-0.1},{"m":6,"x":2.9,"j":0.3},{"m":6,"x":3.2,"j":-0.7},{"m":6,"x":3.5,"j":1.0},
{"m":6,"x":3.8,"j":-0.4},{"m":6,"x":4.0,"j":0.2},{"m":6,"x":4.3,"j":0.6},{"m":6,"x":4.6,"j":-0.9},{"m":6,"x":4.8,"j":0.0},{"m":6,"x":5.1,"j":0.8},{"m":6,"x":5.4,"j":-0.3},{"m":6,"x":5.6,"j":0.5},{"m":6,"x":5.9,"j":-0.6},{"m":6,"x":6.2,"j":0.1},
{"m":7,"x":-9.3,"j":-0.9},{"m":7,"x":-11.0,"j":0.25},{"m":7,"x":-8.9,"j":-0.1},{"m":7,"x":-8.3,"j":-0.7},{"m":7,"x":-8.0,"j":0.4},
{"m":7,"x":9.2,"j":-0.7},{"m":7,"x":10.7,"j":-0.5},{"m":7,"x":12.0,"j":-0.7},{"m":7,"x":12.6,"j":-0.35},{"m":7,"x":13.6,"j":-0.35},{"m":7,"x":14.4,"j":-0.35},{"m":7,"x":15.6,"j":-0.7},{"m":7,"x":16.7,"j":-0.25},{"m":7,"x":14.0,"j":0.4},{"m":7,"x":13.2,"j":0.8},{"m":7,"x":14.4,"j":0.8},{"m":7,"x":11.5,"j":0.0},{"m":7,"x":10.2,"j":0.0},{"m":7,"x":9.0,"j":0.5},{"m":7,"x":9.9,"j":0.75},{"m":7,"x":18.5,"j":0.65},{"m":7,"x":22.6,"j":0.5},{"m":7,"x":28.6,"j":-0.15},{"m":7,"x":32.8,"j":0.0},{"m":7,"x":8.0,"j":-0.35},{"m":7,"x":8.5,"j":-0.95},
{"m":7,"x":-7.6,"j":0.7},{"m":7,"x":-7.4,"j":-0.4},{"m":7,"x":-7.3,"j":-0.8},{"m":7,"x":-7.1,"j":0.6},{"m":7,"x":-7.0,"j":0.0},{"m":7,"x":-6.8,"j":-0.5},{"m":7,"x":-6.7,"j":0.8},{"m":7,"x":-6.5,"j":-0.1},{"m":7,"x":-6.4,"j":0.4},{"m":7,"x":-6.2,"j":-0.6},
{"m":7,"x":-6.1,"j":1.0},{"m":7,"x":-5.9,"j":-0.3},{"m":7,"x":-5.8,"j":0.2},{"m":7,"x":-5.6,"j":-1.0},{"m":7,"x":-5.5,"j":0.7},{"m":7,"x":-5.3,"j":-0.7},{"m":7,"x":-5.1,"j":0.3},{"m":7,"x":-5.0,"j":0.9},{"m":7,"x":-4.8,"j":-0.4},{"m":7,"x":-4.7,"j":0.0},
{"m":7,"x":-4.5,"j":-0.9},{"m":7,"x":-4.4,"j":0.5},{"m":7,"x":-4.2,"j":-0.2},{"m":7,"x":-4.1,"j":0.8},{"m":7,"x":-3.9,"j":-0.6},{"m":7,"x":-3.8,"j":0.2},{"m":7,"x":-3.6,"j":0.6},{"m":7,"x":-3.5,"j":-0.8},{"m":7,"x":-3.3,"j":-0.1},{"m":7,"x":-3.1,"j":1.0},
{"m":7,"x":-3.0,"j":-0.5},{"m":7,"x":-2.8,"j":0.4},{"m":7,"x":-2.7,"j":-0.3},{"m":7,"x":-2.5,"j":0.1},{"m":7,"x":-2.4,"j":0.9},{"m":7,"x":-2.2,"j":-0.7},{"m":7,"x":-2.1,"j":0.5},{"m":7,"x":-1.9,"j":-1.0},{"m":7,"x":-1.8,"j":0.3},{"m":7,"x":-1.6,"j":-0.4},
{"m":7,"x":-1.5,"j":0.7},{"m":7,"x":-1.3,"j":0.0},{"m":7,"x":-1.2,"j":-0.6},{"m":7,"x":-1.0,"j":0.8},{"m":7,"x":-0.8,"j":-0.2},{"m":7,"x":-0.7,"j":0.4},{"m":7,"x":-0.5,"j":-0.9},{"m":7,"x":-0.4,"j":0.6},{"m":7,"x":-0.2,"j":-0.1},{"m":7,"x":-0.1,"j":0.2},
{"m":7,"x":0.1,"j":-0.8},{"m":7,"x":0.2,"j":1.0},{"m":7,"x":0.4,"j":-0.5},{"m":7,"x":0.5,"j":0.3},{"m":7,"x":0.7,"j":0.7},{"m":7,"x":0.8,"j":-0.3},{"m":7,"x":1.0,"j":-0.7},{"m":7,"x":1.1,"j":0.5},{"m":7,"x":1.3,"j":0.1},{"m":7,"x":1.5,"j":-1.0},
{"m":7,"x":1.6,"j":0.9},{"m":7,"x":1.8,"j":-0.4},{"m":7,"x":1.9,"j":0.0},{"m":7,"x":2.1,"j":0.6},{"m":7,"x":2.2,"j":-0.6},{"m":7,"x":2.4,"j":0.2},{"m":7,"x":2.5,"j":0.8},{"m":7,"x":2.7,"j":-0.9},{"m":7,"x":2.8,"j":-0.2},{"m":7,"x":3.0,"j":0.4},
{"m":7,"x":3.1,"j":-0.5},{"m":7,"x":3.3,"j":1.0},{"m":7,"x":3.4,"j":0.1},{"m":7,"x":3.6,"j":-0.8},{"m":7,"x":3.8,"j":0.7},{"m":7,"x":3.9,"j":-0.3},{"m":7,"x":4.1,"j":0.3},{"m":7,"x":4.2,"j":-0.1},{"m":7,"x":4.4,"j":0.9},{"m":7,"x":4.5,"j":-0.6},
{"m":7,"x":4.7,"j":0.5},{"m":7,"x":4.8,"j":-0.9},{"m":7,"x":5.0,"j":0.0},{"m":7,"x":5.1,"j":0.8},{"m":7,"x":5.3,"j":-0.4},{"m":7,"x":5.4,"j":0.2},{"m":7,"x":5.6,"j":-0.7},{"m":7,"x":5.8,"j":0.6},{"m":7,"x":5.9,"j":0.4},{"m":7,"x":6.1,"j":-1.0},
{"m":7,"x":6.2,"j":0.1},{"m":7,"x":6.4,"j":-0.2},{"m":7,"x":6.5,"j":0.7},{"m":7,"x":6.7,"j":-0.5},{"m":7,"x":6.8,"j":0.9},{"m":7,"x":7.0,"j":-0.8},{"m":7,"x":7.1,"j":0.3},{"m":7,"x":7.3,"j":0.0},{"m":7,"x":7.4,"j":-0.3},{"m":7,"x":7.6,"j":0.6},
{"m":7,"x":-7.2,"j":0.1},{"m":7,"x":-7.0,"j":1.0},{"m":7,"x":-6.7,"j":-0.5},{"m":7,"x":-6.5,"j":0.4},{"m":7,"x":-6.2,"j":-0.2},{"m":7,"x":-6.0,"j":-0.9},{"m":7,"x":-5.8,"j":0.8},{"m":7,"x":-5.5,"j":0.2},{"m":7,"x":-5.3,"j":-0.6},{"m":7,"x":-5.0,"j":0.6},
{"m":7,"x":-4.8,"j":0.0},{"m":7,"x":-4.6,"j":-0.4},{"m":7,"x":-4.3,"j":0.9},{"m":7,"x":-4.1,"j":-1.0},{"m":7,"x":-3.8,"j":0.1},{"m":7,"x":-3.6,"j":0.5},{"m":7,"x":-3.3,"j":-0.7},{"m":7,"x":-3.1,"j":-0.3},{"m":7,"x":-2.9,"j":0.7},{"m":7,"x":-2.6,"j":0.3},
{"m":7,"x":-2.4,"j":-0.2},{"m":7,"x":-2.1,"j":0.7},{"m":7,"x":-1.9,"j":0.1},{"m":7,"x":-1.7,"j":-0.7},{"m":7,"x":-1.4,"j":0.4},{"m":7,"x":-1.2,"j":-0.4},{"m":7,"x":-0.9,"j":1.0},{"m":7,"x":-0.7,"j":0.2},{"m":7,"x":-0.5,"j":-0.6},{"m":7,"x":-0.2,"j":0.8},
{"m":7,"x":0.0,"j":-0.1},{"m":7,"x":0.3,"j":0.5},{"m":7,"x":0.5,"j":-0.9},{"m":7,"x":0.7,"j":0.6},{"m":7,"x":1.0,"j":-0.3},{"m":7,"x":1.2,"j":0.0},{"m":7,"x":1.5,"j":0.3},{"m":7,"x":1.7,"j":-0.8},{"m":7,"x":1.9,"j":0.9},{"m":7,"x":2.2,"j":-0.5},
{"m":7,"x":2.4,"j":0.7},{"m":7,"x":2.7,"j":-0.2},{"m":7,"x":2.9,"j":0.1},{"m":7,"x":3.1,"j":-1.0},{"m":7,"x":3.4,"j":0.4},{"m":7,"x":3.6,"j":0.6},{"m":7,"x":3.9,"j":-0.7},{"m":7,"x":4.1,"j":0.2},{"m":7,"x":4.4,"j":-0.4},{"m":7,"x":4.6,"j":0.8},
{"m":7,"x":4.8,"j":0.0},{"m":7,"x":5.1,"j":-0.9},{"m":7,"x":5.3,"j":0.5},{"m":7,"x":5.6,"j":-0.6},{"m":7,"x":5.8,"j":0.9},{"m":7,"x":6.0,"j":-0.1},{"m":7,"x":6.3,"j":0.3},{"m":7,"x":6.5,"j":-0.3},{"m":7,"x":6.8,"j":0.7},{"m":7,"x":7.0,"j":-0.8},
{"m":7,"x":-7.0,"j":0.6},{"m":7,"x":-6.7,"j":-0.7},{"m":7,"x":-6.4,"j":0.2},{"m":7,"x":-6.1,"j":0.9},{"m":7,"x":-5.8,"j":-0.1},{"m":7,"x":-5.6,"j":-0.6},{"m":7,"x":-5.3,"j":0.5},{"m":7,"x":-5.0,"j":-0.3},{"m":7,"x":-4.7,"j":0.8},{"m":7,"x":-4.4,"j":0.1},
{"m":7,"x":-4.1,"j":0.5},{"m":7,"x":-3.8,"j":-0.3},{"m":7,"x":-3.5,"j":-0.9},{"m":7,"x":-3.2,"j":0.2},{"m":7,"x":-2.9,"j":0.8},{"m":7,"x":-2.7,"j":-0.6},{"m":7,"x":-2.4,"j":0.0},{"m":7,"x":-2.1,"j":0.6},{"m":7,"x":-1.8,"j":-0.2},{"m":7,"x":-1.5,"j":-0.8},
{"m":7,"x":-1.2,"j":0.9},{"m":7,"x":-0.9,"j":0.1},{"m":7,"x":-0.6,"j":-0.5},{"m":7,"x":-0.3,"j":0.4},{"m":7,"x":0.0,"j":-1.0},{"m":7,"x":0.3,"j":0.7},{"m":7,"x":0.5,"j":-0.1},{"m":7,"x":0.8,"j":0.3},{"m":7,"x":1.1,"j":-0.7},{"m":7,"x":1.4,"j":1.0},
{"m":7,"x":1.7,"j":-0.4},{"m":7,"x":2.0,"j":0.2},{"m":7,"x":2.3,"j":0.6},{"m":7,"x":2.6,"j":-0.9},{"m":7,"x":2.9,"j":0.0},{"m":7,"x":3.2,"j":0.8},{"m":7,"x":3.4,"j":-0.3},{"m":7,"x":3.7,"j":0.5},{"m":7,"x":4.0,"j":-0.6},{"m":7,"x":4.3,"j":0.1},
{"m":7,"x":4.6,"j":-0.8},{"m":7,"x":4.9,"j":0.9},{"m":7,"x":5.2,"j":-0.2},{"m":7,"x":5.5,"j":0.4},{"m":7,"x":5.8,"j":-0.5},{"m":7,"x":6.1,"j":0.7},{"m":7,"x":6.3,"j":0.0},{"m":7,"x":6.6,"j":-1.0},{"m":7,"x":6.9,"j":0.3},{"m":7,"x":7.2,"j":-0.4}
]},
"layer":[
{"data":{"name":"band"},"mark":{"type":"rect","color":"#f3f3f3"},
 "encoding":{"x":{"field":"lo","type":"quantitative","scale":{"domain":[-43.7,42.4],"nice":false,"zero":false},"axis":null},"x2":{"field":"hi"}}},
{"data":{"name":"measures"},"mark":{"type":"rect","cornerRadius":22,"color":"#f8f8f8"},
 "encoding":{
  "y":{"field":"name","type":"nominal","title":null,"bandPosition":0,
   "scale":{"domain":["Pupils at expected standards at the end of\nkey stage 2","GCSEs (and equivalent) in English and maths\nby age 19","Schools and nursery schools rated good or\noutstanding","Apprenticeships starts","Apprenticeships achievements","Aged 16 to 64 years level 3 or above\nqualifications","Aged 19 years and over further education\nand skills participation"],"paddingInner":0.385,"paddingOuter":0.19},
   "axis":{"domain":false,"ticks":false,"tickSize":0,"grid":false,"labelAlign":"left","labelBaseline":"middle","labelPadding":417,"labelFont":"Open Sans","labelFontSize":19.5,"labelFontWeight":600,"labelColor":"#1d1d1d","labelLimit":600,"labelLineHeight":22,"labelOffset":{"condition":{"test":"indexof(datum.value, '\\n') >= 0","value":-9},"value":0},"labelExpr":"split(datum.value, '\\n')"}},
  "y2":{"field":"name","bandPosition":1},
  "x":{"datum":-43.7,"type":"quantitative","axis":null},"x2":{"datum":50}}},
{"data":{"name":"guides"},"mark":{"type":"rule","color":"#c9c9c9","strokeDash":[2,3],"strokeWidth":1},
 "encoding":{"x":{"field":"x","type":"quantitative","axis":null}}},
{"data":{"name":"median"},"mark":{"type":"rule","color":"#f5a200","strokeWidth":3},
 "encoding":{"x":{"field":"x","type":"quantitative","axis":null}}},
{"data":{"name":"points"},
 "transform":[{"lookup":"m","from":{"data":{"name":"measures"},"key":"m","fields":["name"]}}],
 "mark":{"type":"circle","size":175,"color":"#a8becc","opacity":0.6},
 "encoding":{"x":{"field":"x","type":"quantitative","axis":null},
  "y":{"field":"name","type":"nominal","title":null},
  "yOffset":{"field":"j","type":"quantitative","scale":{"domain":[-1,1],"range":[6,38]}}}},
{"data":{"name":"highlight"},
 "transform":[{"lookup":"m","from":{"data":{"name":"measures"},"key":"m","fields":["name"]}}],
 "mark":{"type":"circle","size":210,"color":"#1f5a8d","opacity":1,"stroke":"white","strokeWidth":2},
 "encoding":{"x":{"field":"x","type":"quantitative","axis":null},
  "y":{"field":"name","type":"nominal","title":null},
  "yOffset":{"field":"j","type":"quantitative","scale":{"domain":[-1,1],"range":[6,38]}}}},
{"data":{"name":"header"},
 "transform":[{"lookup":"m","from":{"data":{"name":"measures"},"key":"m","fields":["name"]}}],
 "mark":{"type":"rect","color":"white"},
 "encoding":{"x":{"field":"x1","type":"quantitative","axis":null},"x2":{"field":"x2"},
  "y":{"field":"name","type":"nominal","title":null,"bandPosition":-0.31},"y2":{"field":"name","bandPosition":0.395}}},
{"data":{"name":"title"},
 "transform":[{"lookup":"m","from":{"data":{"name":"measures"},"key":"m","fields":["name"]}}],
 "mark":{"type":"text","fontSize":14.5,"color":"#666666","font":"Open Sans","dy":-11,"align":"center","baseline":"middle"},
 "encoding":{"x":{"field":"x","type":"quantitative","axis":null},"y":{"field":"name","type":"nominal","title":null,"bandPosition":0},"text":{"field":"t"}}},
{"data":{"name":"sides"},
 "transform":[{"lookup":"m","from":{"data":{"name":"measures"},"key":"m","fields":["name"]}}],
 "mark":{"type":"text","fontSize":14.5,"color":"#666666","font":"Open Sans","dy":10,"align":"center","baseline":"middle"},
 "encoding":{"x":{"field":"x","type":"quantitative","axis":null},"y":{"field":"name","type":"nominal","title":null,"bandPosition":0},"text":{"field":"t"}}}
]
}
